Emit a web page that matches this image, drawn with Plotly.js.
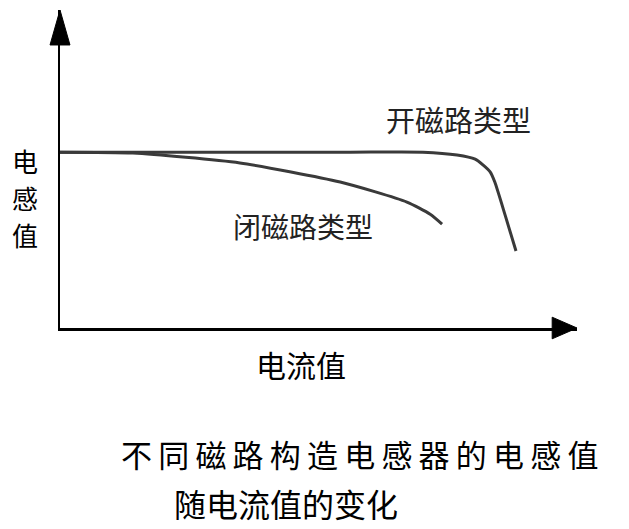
<!DOCTYPE html>
<html>
<head>
<meta charset="utf-8">
<script src="https://cdn.plot.ly/plotly-3.0.1.min.js"></script>
<style>html,body{margin:0;padding:0;background:#fff;}#chart{width:629px;height:529px;}</style>
</head>
<body>
<div id="chart"></div>
<script>
// Current (x) and inductance (y) in arbitrary units
const openCurrent = [0, 27.1, 56.1, 70.2, 76.8, 80.3, 81.8, 83.2, 84.1, 86.1, 88.2];
const openInductance = [55.3, 55.3, 55.3, 55.3, 54.4, 53.1, 51.3, 49.1, 45.9, 35.5, 24.2];
const closedCurrent = [0, 14.1, 34.8, 54.2, 67.1, 71.6, 73.9];
const closedInductance = [55.3, 55.0, 51.9, 45.9, 39.6, 35.8, 32.7];
const seriesNames = ['开磁路类型', '闭磁路类型'];
const xLabel = '电流值';
const yLabel = '电感值';
const titleLines = ['不同磁路构造电感器的电感值', '随电流值的变化'];

const FONT = '"Noto Sans CJK SC", "Noto Sans", sans-serif';
const lineStyle = {color: '#3a3a3a', width: 3, shape: 'spline', smoothing: 0.6};

const traces = [
  {x: openCurrent, y: openInductance, name: seriesNames[0], mode: 'lines', line: lineStyle, hoverinfo: 'skip'},
  {x: closedCurrent, y: closedInductance, name: seriesNames[1], mode: 'lines', line: lineStyle, hoverinfo: 'skip'}
];

const spaced = (s, sep) => s.split('').join(sep);

const annots = [
  {text: seriesNames[0], x: 458, y: 119, size: 29, color: '#222'},
  {text: seriesNames[1], x: 303, y: 226, size: 28, color: '#222'},
  {text: xLabel, x: 301, y: 364, size: 30, color: '#000'},
  {text: spaced(titleLines[0], '\u2009'), x: 359, y: 453, size: 31, color: '#000'},
  {text: titleLines[1], x: 286, y: 503, size: 32, color: '#000'}
];
// vertical y-axis label, one character per line
yLabel.split('').forEach((ch, i) => {
  annots.push({text: ch, x: 25, y: 160 + i * 37, size: 26, color: '#000'});
});

const layout = {
  width: 629, height: 529,
  margin: {l: 60, r: 52, t: 10, b: 201},
  paper_bgcolor: '#fff', plot_bgcolor: '#fff',
  showlegend: false,
  xaxis: {range: [0, 100], showgrid: false, zeroline: false, showticklabels: false, ticks: '',
          showline: true, linecolor: '#000', linewidth: 2.5, fixedrange: true},
  yaxis: {range: [0, 100], showgrid: false, zeroline: false, showticklabels: false, ticks: '',
          showline: true, linecolor: '#000', linewidth: 2.5, fixedrange: true},
  shapes: [
    {type: 'path', xref: 'paper', yref: 'paper',
     path: 'M -0.0193 0.890 L 0 1 L 0.0193 0.890 Z', fillcolor: '#000', line: {color: '#000', width: 1}},
    {type: 'path', xref: 'paper', yref: 'paper',
     path: 'M 0.952 0.034 L 1 0 L 0.952 -0.034 Z', fillcolor: '#000', line: {color: '#000', width: 1}}
  ],
  annotations: annots.map(a => ({
    text: a.text, xref: 'paper', yref: 'paper',
    x: (a.x - 60) / 517, y: (328 - a.y) / 318,
    xanchor: 'center', yanchor: 'middle', showarrow: false,
    font: {family: FONT, size: a.size, color: a.color}
  }))
};

Plotly.newPlot('chart', traces, layout, {staticPlot: true, displayModeBar: false});
</script>
</body>
</html>
